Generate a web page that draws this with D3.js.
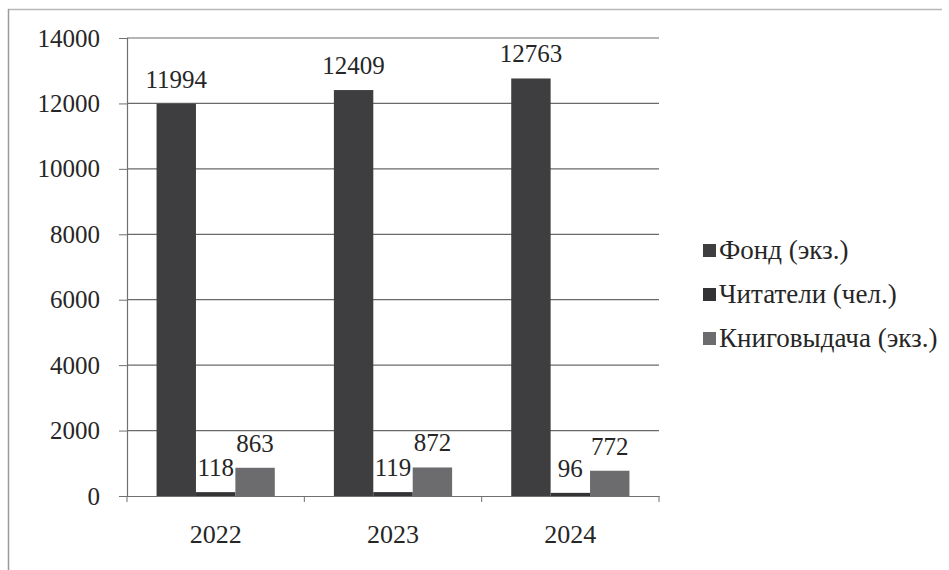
<!DOCTYPE html>
<html>
<head>
<meta charset="utf-8">
<script src="https://cdn.jsdelivr.net/npm/d3@7"></script>
<style>
  body { margin: 0; background: #fff; }
</style>
</head>
<body>
<div id="chart"></div>
<script>
const years = ['2022', '2023', '2024'];
const seriesNames = ['Фонд (экз.)', 'Читатели (чел.)', 'Книговыдача (экз.)'];
const fond = [11994, 12409, 12763];
const readers = [118, 119, 96];
const loans = [863, 872, 772];
const yTicks = [0, 2000, 4000, 6000, 8000, 10000, 12000, 14000];

const colors = ['#3e3e40', '#333335', '#6c6c6e'];
const series = [fond, readers, loans];
const serif = '"Liberation Serif"';
const ink = '#262626';

const width = 949;
const height = 570;
const plot = { left: 127, right: 659, top: 38, bottom: 496 };

const svg = d3.select('#chart')
  .append('svg')
    .attr('width', width)
    .attr('height', height);

// outer frame (top and left edges only visible)
svg.append('line')
  .attr('x1', 8).attr('x2', 942).attr('y1', 9.5).attr('y2', 9.5)
  .attr('stroke', '#b8b8b8').attr('stroke-width', 1.5);
svg.append('line')
  .attr('x1', 8.5).attr('x2', 8.5).attr('y1', 9).attr('y2', height)
  .attr('stroke', '#9a9a9a').attr('stroke-width', 1.5);

const x0 = d3.scaleBand()
  .domain(years)
  .range([plot.left, plot.right]);

const x1 = d3.scaleBand()
  .domain(d3.range(seriesNames.length))
  .range([0, x0.bandwidth()])
  .paddingOuter(0.75);

const y = d3.scaleLinear()
  .domain([0, 14000])
  .range([plot.bottom, plot.top]);

// gridlines
svg.append('g')
  .selectAll('line')
  .data(yTicks.filter(d => d > 0))
  .join('line')
    .attr('x1', plot.left)
    .attr('x2', plot.right)
    .attr('y1', d => y(d))
    .attr('y2', d => y(d))
    .attr('stroke', '#6a6a6a')
    .attr('stroke-width', 1.2);

// y axis
const yAxis = svg.append('g')
  .attr('transform', `translate(${plot.left},0)`)
  .call(d3.axisLeft(y).tickValues(yTicks).tickSize(8).tickPadding(19).tickFormat(d3.format('d')));
yAxis.select('.domain').attr('stroke', '#707070').attr('stroke-width', 1.2);
yAxis.selectAll('.tick line').attr('stroke', '#707070');
yAxis.selectAll('.tick text')
  .style('font-family', serif)
  .style('font-size', '25px')
  .style('fill', ink);

// bars
const groups = svg.append('g')
  .selectAll('g')
  .data(years)
  .join('g')
    .attr('transform', d => `translate(${x0(d)},0)`);

groups.selectAll('rect')
  .data((d, i) => series.map((s, k) => ({ k, v: s[i] })))
  .join('rect')
    .attr('x', d => x1(d.k))
    .attr('width', x1.bandwidth())
    .attr('y', d => y(d.v))
    .attr('height', d => y(0) - y(d.v))
    .attr('fill', d => colors[d.k]);

groups.selectAll('text.val')
  .data((d, i) => series.map((s, k) => ({ k, v: s[i] })))
  .join('text')
    .attr('class', 'val')
    .attr('x', d => x1(d.k) + x1.bandwidth() / 2)
    .attr('y', d => y(d.v) - 16)
    .attr('text-anchor', 'middle')
    .style('font-family', serif)
    .style('font-size', '25px')
    .style('fill', ink)
    .text(d => d.v);

// x axis
const xAxis = svg.append('g')
  .attr('transform', `translate(0,${plot.bottom})`)
  .call(d3.axisBottom(x0).tickSize(0).tickPadding(29));
xAxis.select('.domain').attr('stroke', '#707070').attr('stroke-width', 1.2);
xAxis.selectAll('.tick text')
  .style('font-family', serif)
  .style('font-size', '26px')
  .style('fill', ink);

svg.append('g')
  .selectAll('line')
  .data([...years.map(d => x0(d)), plot.right])
  .join('line')
    .attr('x1', d => d).attr('x2', d => d)
    .attr('y1', plot.bottom).attr('y2', plot.bottom + 6)
    .attr('stroke', '#707070');

// legend
const legend = svg.append('g')
  .selectAll('g')
  .data(seriesNames)
  .join('g')
    .attr('transform', (d, i) => `translate(703,${250 + i * 44})`);

legend.append('rect')
  .attr('x', 0).attr('y', -6)
  .attr('width', 13).attr('height', 13)
  .attr('fill', (d, i) => colors[i]);

legend.append('text')
  .attr('x', 16)
  .attr('y', 9)
  .style('font-family', serif)
  .style('font-size', '27px')
  .style('fill', ink)
  .text(d => d);
</script>
</body>
</html>
